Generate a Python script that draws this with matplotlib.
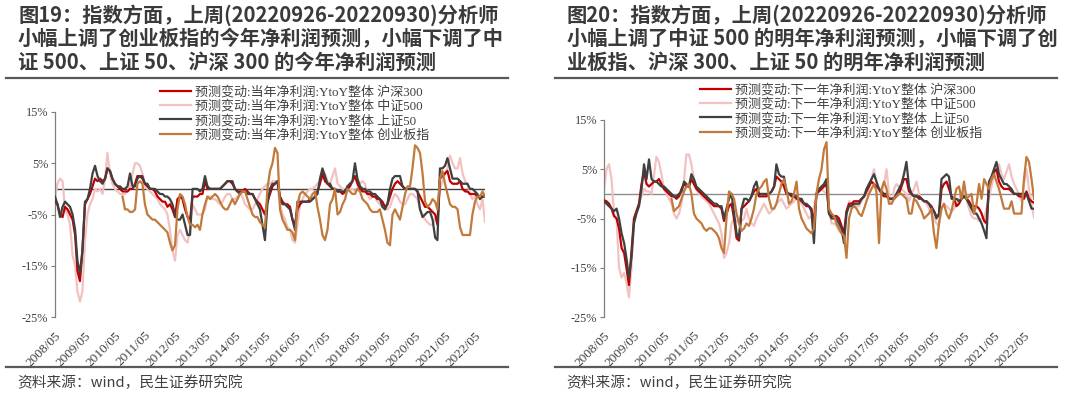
import numpy as np
import pandas as pd
import matplotlib
matplotlib.use("Agg")
import matplotlib.pyplot as plt
from matplotlib.lines import Line2D

nan = np.nan

# monthly points, 2008/05 .. 2022/09 (values in %)
DATES = pd.date_range("2008-05-31", periods=173, freq="ME")

# ---- figure 19: current year net profit forecast change ----
L_HS300 = [
    -2.5, -3, -5, -5.5, -3.5, -4, -5, -6, -9, -16,
    -18, -12, -3, -2, -1, 0.5, 2, 1.5, 2, 1.5,
    2, 4, 3.5, 2, 1, 0.5, 0, -0.5, -0.5, -0.5,
    0, 0, 1, 2.5, 2.5, 2, 1, 0.5, 0, 0,
    -0.5, -1.5, -2, -2.5, -2.5, -3.5, -3, -4, -5.5, -2,
    -1.5, -2, -4, -5.5, -6, -1.5, -1.5, -1.5, -1, -1,
    1.5, 0, 0, 0, 0, 0, 0, 0.5, 1, 1.5,
    1.5, 1, 0, -0.5, -0.5, -0.5, 0, -0.5, -1, -1,
    -2, -2.5, -3, -4, -5, -2.5, -1, 0.5, 1, 1.5,
    -1.5, -2.5, -3, -3, -3.5, -6, -7, -4, -3, -2.5,
    -2.5, -2.5, -2, -2, -1.5, -0.5, 1, 3, 1.5, 1,
    0.5, 0, 0, -0.5, -0.5, -1, -0.5, 0, 0.5, 1.5,
    2.5, 1, 0, -0.5, -0.5, -1, -1, -1.5, -1.5, -2,
    -2, -2.5, -3.5, -3, -1.5, 0, 1, 1.5, 1, 0.5,
    0, 0, 0, 0, 0, -0.5, -1.5, -2.5, -3.5, -3.5,
    -4, -4.5, -5, -7, 2, 2.5, 3, 3.5, 1.5, 1,
    1, 1, 1.5, 0, -0.5, -0.5, -1, -1, -1, -1.5,
    -1.5, -1.5, -1.5,
]
L_ZZ500 = [
    -2, 1, 2, 1.5, -4, -5, -7, -13, -15, -20,
    -22, -20, -10, -5, -3, -2, 0, -0.5, 0, -1,
    2, 7, 3, 1, 0, -0.5, -1, -1, -1, -0.5,
    0.5, 3, 5, 5, 4.5, 3, 0.5, 0, -0.5, -1,
    -1.5, -2, -3, -3.5, -4, -5, -8, -12, -14, -9,
    -8, -9, -10, -10.5, -8, -3, -4, -5, -5, -5,
    -4, -1.5, -1.5, -2, -2, -2.5, -3, -2.5, -1.5, -1,
    -1, -2, -2, -1.5, -1, -1.5, -3, -3.5, -4, -4,
    -3, -2, -1, 0, 0.5, 1, 1, 1.5, 1.5, 1,
    -3, -5, -6, -7.5, -8, -10, -10.5, -7, -3, -2,
    -1, -0.5, 0, 0, 0.5, 1, 1.5, 2, 3, 1.5,
    1, 2.5, 4, 1, 0.5, 0, -1, -0.5, 0, 0,
    -0.5, 0, 1, 1.5, 1, -1, -2, -1.5, -1.5, -2.5,
    -3, -3.5, -4, -4, -3.5, -2, -1, -1.5, -2.5, -3,
    -3, -2, -1, -1, -1.5, -2, -4, -5, -6, -6.5,
    -7, -7, -6, -5, 0, 1.5, 3, 4, 6.5, 5,
    4, 4, 6, 3, 1.5, 1, -1, -2, -1.5, -3,
    -4, -2, -6.5,
]
L_SZ50 = [
    -1.5, -3, -5.5, -3.5, -2.5, -3, -3.5, -5, -8, -14,
    -16.5, -12, -2.5, -2, 0, 3, 4.5, 2.5, 1.5, 1,
    2, 4, 3.5, 2, 1, 0.5, 0.5, 0, 0, 0.5,
    3, 0.5, 0.5, 2, 2.5, 2.5, 1, 1, 0, 0,
    0, -0.5, -1, -1, -1.5, -1.5, -2, -3, -5, -6,
    -6, -5, -7, -9, -9, 0, 0, 0, -0.5, 0,
    2.5, 0.5, 0, 0, 0, 0, 0, 0.5, 1, 1.5,
    1.5, 1.5, 0, -0.5, -1, -0.5, -0.5, -1, -1, -1,
    -2, -3, -4, -7, -10, -3, 0, 1, 1, 1.5,
    -2, -3, -3, -3.5, -4, -6, -8, -2.5, -2.5, -2.5,
    -2.5, -2.5, -2.5, -2, -1.5, -1, 2, 4, 2.5, 1,
    1, 0, 0, -0.5, -0.5, -0.5, -0.5, 0.5, 1, 1.5,
    5, 2, 0.5, 0, 0, -0.5, -0.5, -1, -1, -1.5,
    -2, -3.5, -4, -3, 0, 2, 2.5, 2.5, 2.5, 0.5,
    0, 0, 0, 0, 0, -0.5, -4, -5.5, -5, -4.5,
    -4.5, -6, -9.5, -10, 4, 4, 4.5, 6, 4, 2,
    2, 2, 1.5, 1, 1, 1, 0, 0, -0.5, -1,
    -2, -1.5, -1.5,
]
L_CYB = [nan] * 27 + [
    -1.5, -4, -4,
    -4.5, -4.5, -4, 1, 1.5, 1, -3, -5, -5.5, -6,
    -6, -6.5, -7, -7.5, -8, -8.5, -10.5, -12, -11, -4,
    -1, -1.5, -3, -5.5, -7, -7, -7.5, -7, -8, -5,
    -3, -1.5, -2, -1.5, -1, -1.5, -2.5, -3.5, -4, -4,
    -3, -2, -3, -2, -1, -0.5, -0.5, -2, -3.5, -5,
    -5.5, -5.5, -6.5, -7, -7.5, 0, 3.5, 5, 8, 7,
    -4, -6, -7, -8, -8, -8.5, -10, -3, -1, -0.5,
    -1, -1.5, -2, -1, -0.5, -3.5, -6, -9, -10, -8,
    -3, -2, 0, -5, -4.5, -3, -2, 0, -0.5, -1,
    -1, 0, -0.5, -2, -2.5, -3, -4, -4.5, -4.5, -4.5,
    -4, -6, -8, -10.5, -11, -5, -4, -5, -6, -3.5,
    -1, 0.5, 0.5, 4, 8.5, 8, 7, 3, -2.5, -3.5,
    -3, -2, -2.5, -4, 2, 3.5, 1, -1, -3, -3.5,
    -3.5, -4, -7.5, -9, -9, -9, -9, -5, -2.5, -1.5,
    -1.5, -0.5, -1.5,
]

# ---- figure 20: next year net profit forecast change ----
R_HS300 = [
    -1.3, -1.5, -2, -3, -4.5, -5, -7, -11, -12, -15,
    -18.5, -12, -5, -3.5, -2, 2, 4.5, 2, 1.5, 2,
    2.5, 2.5, 3, 2, 1, 0.5, 0, -0.5, -0.5, -1,
    -0.5, 1, 2, 1.5, 1.5, 3, 2, 1, 0.5, 0,
    -0.5, -1, -1.5, -2, -2.5, -2.5, -2.5, -3, -5.5, -4,
    -2.5, -2, -5, -9, -9.5, -3, -2.5, -2, -1.5, -0.5,
    0.5, 1, -0.5, -0.5, -0.5, -0.5, 0, 0.5, 1.5, 3.5,
    3, 2.5, 1.5, 0, 0, -0.5, -0.5, -1, -1, -1.5,
    -2, -2.5, -2.5, -3, -6, 0, 0.5, 1, 1.5, 2,
    -4, -4.5, -4.5, -4.5, -5, -6.5, -8, -3.5, -2, -2,
    -1.5, -1.5, -1.5, -1, -0.5, 0.5, 1.5, 2.5, 2, 1.5,
    1, 0, -0.5, -0.5, -1, -1, -1, -0.5, 0, 1.5,
    3, 3, 0.5, 0, -0.5, -0.5, -0.5, -1, -1.5, -1.5,
    -2, -2.5, -3.5, -4.5, -4.5, 1, 2, 2.5, 1, -0.5,
    -1, -2.5, -2, -1, -0.5, -1, -1.5, -2.5, -2.5, -2.5,
    -3, -4, -5.5, -6, 2, 3, 4.5, 5, 2.5, 1.5,
    1, 1, 1, 0.5, 0, 0, -0.5, -0.5, -1, 0.5,
    -1, -1.5, -1.8,
]
R_ZZ500 = [
    1, 5, 6, 3, -4, -5, -15, -17, -16, -18,
    -21, -15, -5, -3.5, -2, -0.5, 1, 0.5, 0.5, 0,
    4, 7.5, 6.5, 4, 1, 0, -1, -2, -4, -5,
    -4, -2, 3, 8, 8, 6, 3, 1, 0, -0.5,
    -1, -1.5, -2, -3, -4, -5, -6, -8, -13, -12,
    -10, -6, -5, -5.5, -6, -5.5, -5, -3, -5, -6,
    -6.5, -5, -4, -3, -2, -3, -4, -3.5, -3, -2,
    -1.5, -1, -2, -3, -2.5, -2, -1.5, -1, -1.5, -2,
    -3, -4, -5, -4.5, -3, 0, 0.5, 1, 0.5, 0,
    -3, -6, -6, -6.5, -7.5, -8, -9, -4, -1.5, -2,
    -2, -2.5, -2.5, -1.5, -0.5, 0, 1, 3, 5, 2,
    1, 0, 2, 5, 0, -2, 1, 2, 1.5, 1,
    0.5, 0, -1.5, 0, 1, 2.5, 0, -1, -1.5, -2,
    -3, -4, -5, -6, -6.5, -3, -2, -2.5, -3, -3.5,
    -3, -2, -1, 0, 0.5, -1, -3, -4.5, -5, -5,
    -5.5, -5, -5, -3, -1, 1.5, 3.5, 5, 6, 4,
    3, 4.5, 6, 3.5, 2, 1, 0, -1.5, 2, 5,
    1, -2, -4.8,
]
R_SZ50 = [
    -1.5, -2, -2.5, -3, -3.5, -3, -5, -8, -10, -13,
    -17, -13, -6, -4, -2.5, 1, 6, 3, 7, 3,
    2.5, 2.5, 2, 1.5, 1.5, 1, 0.5, 0, -0.5, -0.5,
    0, 0.5, 2.5, 2, 1.5, 4, 3, 1.5, 1, 0.5,
    0, -0.5, -1, -1.5, -2, -2, -2.5, -2.5, -5, -3,
    -1, 0, -4, -8, -9, -3, -1, -1, -1.5, -0.5,
    1.5, 2.5, 0, 0, 0, 0, 0, 0.5, 1.5, 6,
    4, 3.5, 3.5, 0.5, 0, 0, -0.5, -0.5, -1, -1,
    -2, -2, -2.5, -3.5, -10, 0, 1, 1.5, 2, 3,
    -4, -5, -5, -5, -6, -7, -10, -4, -2.5, -2.5,
    -2, -2, -2, -1, -0.5, 1, 2, 3, 4, 2.5,
    1, 0.5, 0, 0, -1, -1, -1, 0, 1, 2,
    4, 6.5, 1.5, 0, -0.5, -0.5, -1, -1, -1.5, -1.5,
    -2, -3, -3.5, -5, -4, 3, 3.5, 4, 3.5, -1,
    -1, -1, -1.5, -1, -0.5, -1, -2, -3, -4, -4,
    -5, -6, -7.5, -9, 2.5, 3.5, 5, 6.5, 4, 3,
    2, 2, 1.5, 1, 0, 0, 0, 0, 0, 0,
    -1.5, -3, -3,
]
R_CYB = [nan] * 27 + [
    -1, -3.5, -3,
    -2.5, -1, 0.5, 1.5, 2, 0, -4, -5, -5.5, -6,
    -7, -7.5, -7, -7, -7.5, -8, -9, -11, -12, -5,
    0.5, 0, -1, -4, -6, -7.5, -7, -6, -6.5, -5,
    -3, 0, 1, 1.5, 2.5, 3, -1, -3, -3, -2,
    0, 2, 3, 1, -2, -1.5, 0, 2.5, -3, -5,
    -6, -7, -7.5, -8, -7, 0, 3, 5, 9, 10.5,
    -3, -4, -4.5, -6, -7, -8, -8.5, -13, -5, -3,
    -2.5, -3, -4, -4.5, -3, -1.5, 0, 1, 2, 0.5,
    -10, 1, 2.5, 1, -2, -2, -1, -0.5, 0, 0,
    -0.5, -1, -4, -4, -1, -1.5, -2.5, -3.5, -5, -4.5,
    -4, -3, -8, -11, -6, -3, -2, -4, -5, -3.5,
    -1, 1, 1.5, -1, 2.5, -1, -0.5, 0, -4, -2,
    2, -1, 3, 2, 1, 3, 4, 2.5, 1, -1,
    -3, -3, -3, -1.5, -4, -4, -4, -4, 3, 7.5,
    6.5, 3, -1,
]

INDEX_NAMES = ["沪深300", "中证500", "上证50", "创业板指"]
COLORS = ["#C00000", "#F2C2C2", "#404040", "#C27A3C"]
ZORDERS = [3, 2, 4, 5]
Y_TICKS = [-25, -15, -5, 5, 15]

TITLE_L = ["图19：指数方面，上周(20220926-20220930)分析师",
           "小幅上调了创业板指的今年净利润预测，小幅下调了中",
           "证 500、上证 50、沪深 300 的今年净利润预测"]
TITLE_R = ["图20：指数方面，上周(20220926-20220930)分析师",
           "小幅上调了中证 500 的明年净利润预测，小幅下调了创",
           "业板指、沪深 300、上证 50 的明年净利润预测"]
SOURCE = "资料来源：wind，民生证券研究院"

SERIF = ["Liberation Serif", "Noto Sans CJK SC"]
SANS = ["Noto Sans CJK SC", "DejaVu Sans"]
TEXT_COLOR = "#404040"

W, H = 1080, 394


def fx(px):
    return px / W


def fy(py):
    return 1 - py / H


def draw_panel(fig, x0, ax_rect, title, prefix, series, legend_xy, zero_color):
    # title block
    for i, line in enumerate(title):
        fig.text(fx(x0 + 12), fy(15 + 23.8 * i), line, family=SANS, fontsize=14.6,
                 fontweight="bold", color="#3A3A3A", va="center", ha="left")
    fig.add_artist(Line2D([fx(x0), fx(x0 + 502)], [fy(78), fy(78)], color="#595959", lw=1.6))
    fig.add_artist(Line2D([fx(x0), fx(x0 + 502)], [fy(367), fy(367)], color="#595959", lw=1.6))
    fig.text(fx(x0 + 11), fy(383), SOURCE, family=SANS, fontsize=10.6,
             color=TEXT_COLOR, va="center", ha="left")

    ax = fig.add_axes(ax_rect)
    for name, vals, col, z in zip(INDEX_NAMES, series, COLORS, ZORDERS):
        ax.plot(DATES, vals, color=col, lw=1.6, zorder=z, label=prefix + name)
    ax.axhline(0, color=zero_color, lw=1.0, zorder=1)

    ax.set_xlim(DATES[0], DATES[-1])
    ax.set_ylim(-25, 15)
    ax.set_yticks(Y_TICKS)
    ax.set_yticklabels([f"{v}%" for v in Y_TICKS], family=SERIF, fontsize=8.8, color=TEXT_COLOR)
    ticks = DATES[::12]
    ax.set_xticks(ticks)
    ax.set_xticklabels([d.strftime("%Y/%m") for d in ticks], rotation=45, ha="right",
                       rotation_mode="anchor", family=SERIF, fontsize=9.6, color=TEXT_COLOR)
    ax.tick_params(axis="x", length=0, pad=9)
    ax.tick_params(axis="y", length=3, width=0.8, color="#7F7F7F", pad=2)
    for s in ["top", "right", "bottom"]:
        ax.spines[s].set_visible(False)
    ax.spines["left"].set_color("#7F7F7F")
    ax.spines["left"].set_linewidth(0.9)
    ax.patch.set_alpha(0)

    handles, labels = ax.get_legend_handles_labels()
    leg = ax.legend(handles, labels, loc="upper left", bbox_to_anchor=legend_xy,
                    bbox_transform=fig.transFigure, frameon=False, borderpad=0,
                    borderaxespad=0, handlelength=2.4, handletextpad=0.25,
                    labelspacing=0.1, prop={"family": SERIF, "size": 9.4})
    for t in leg.get_texts():
        t.set_color(TEXT_COLOR)
    return ax


def main():
    fig = plt.figure(figsize=(W / 100, H / 100), dpi=100)
    fig.patch.set_facecolor("white")

    draw_panel(fig, 6,
               [fx(55), fy(317), fx(485) - fx(55), fy(112) - fy(317)],
               TITLE_L, "预测变动:当年净利润:YtoY整体 ",
               [L_HS300, L_ZZ500, L_SZ50, L_CYB],
               (fx(160), fy(86)), "#404040")
    draw_panel(fig, 555,
               [fx(604), fy(317), fx(1034) - fx(604), fy(120) - fy(317)],
               TITLE_R, "预测变动:下一年净利润:YtoY整体 ",
               [R_HS300, R_ZZ500, R_SZ50, R_CYB],
               (fx(700), fy(84)), "#8C8C8C")

    fig.savefig("out.png", dpi=100, facecolor="white")
    plt.close(fig)


if __name__ == "__main__":
    main()
